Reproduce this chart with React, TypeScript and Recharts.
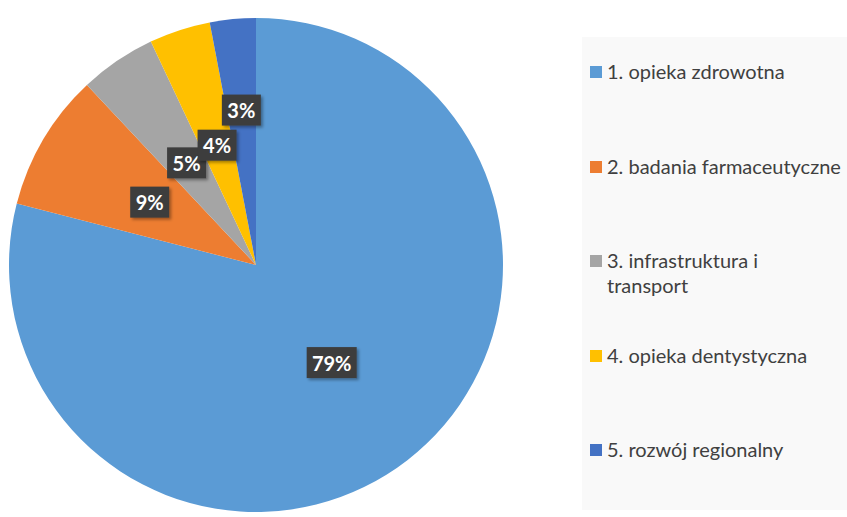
import { Cell, Legend, Pie, PieChart } from "recharts";

const categories = [
  "1. opieka zdrowotna",
  "2. badania farmaceutyczne",
  "3. infrastruktura i transport",
  "4. opieka dentystyczna",
  "5. rozwój regionalny",
];
const shares = [79, 9, 5, 4, 3];
const colors = ["#5B9BD5", "#ED7D31", "#A5A5A5", "#FFC000", "#4472C4"];

const data = categories.map((name, i) => ({ name, value: shares[i] }));

const RAD = Math.PI / 180;
// Excel nudged the smallest label outward so it does not collide
const labelRadius = [0.5, 0.5, 0.5, 0.51, 0.63];

function renderLabel(props: any) {
  const { cx, cy, midAngle, outerRadius, index, value } = props;
  const r = outerRadius * labelRadius[index];
  const x = cx + r * Math.cos(-midAngle * RAD);
  const y = cy + r * Math.sin(-midAngle * RAD);
  const text = `${value}%`;
  const w = text.length > 2 ? 50 : 39;
  const h = 31;
  return (
    <g>
      <rect
        x={x - w / 2}
        y={y - h / 2}
        width={w}
        height={h}
        fill="#3d3d3d"
        filter="url(#lblShadow)"
      />
      <text
        x={x}
        y={y}
        fill="#ffffff"
        textAnchor="middle"
        dominantBaseline="central"
        fontFamily="Lato, 'Open Sans', sans-serif"
        fontWeight={700}
        fontSize={20}
      >
        {text}
      </text>
    </g>
  );
}

function LegendBox() {
  return (
    <div
      style={{
        position: "relative",
        width: 265,
        height: 473,
        background: "#f9f9f9",
        fontFamily: "Lato, 'Open Sans', sans-serif",
        fontSize: 20,
        color: "#404040",
      }}
    >
      {data.map((d, i) => (
        <div
          key={d.name}
          style={{
            position: "absolute",
            left: 8,
            top: 35 + i * 94.5 - 13,
            display: "flex",
            alignItems: "flex-start",
            lineHeight: "25px",
          }}
        >
          <span
            style={{
              display: "inline-block",
              width: 12,
              height: 12,
              marginTop: 7,
              marginRight: 5,
              background: colors[i],
              flexShrink: 0,
            }}
          />
          <span style={{ width: 236 }}>{d.name}</span>
        </div>
      ))}
    </div>
  );
}

export default function App() {
  return (
    <div style={{ position: "absolute", left: 0, top: 0, width: 847, height: 517, background: "#fff" }}>
      <PieChart width={847} height={517} margin={{ top: 0, right: 0, bottom: 0, left: 0 }}>
        <defs>
          <filter id="lblShadow" x="-20%" y="-20%" width="150%" height="160%">
            <feDropShadow dx="2" dy="2" stdDeviation="1.5" floodColor="#000" floodOpacity="0.35" />
          </filter>
        </defs>
        <Pie
          data={data}
          dataKey="value"
          nameKey="name"
          cx={256}
          cy={265}
          outerRadius={247}
          startAngle={90}
          endAngle={-270}
          stroke="none"
          label={renderLabel}
          labelLine={false}
          isAnimationActive={false}
        >
          {data.map((d, i) => (
            <Cell key={d.name} fill={colors[i]} />
          ))}
        </Pie>
        <Legend
          layout="vertical"
          content={() => <LegendBox />}
          wrapperStyle={{ position: "absolute", left: 582, top: 37, width: 265, height: 473 }}
        />
      </PieChart>
    </div>
  );
}
